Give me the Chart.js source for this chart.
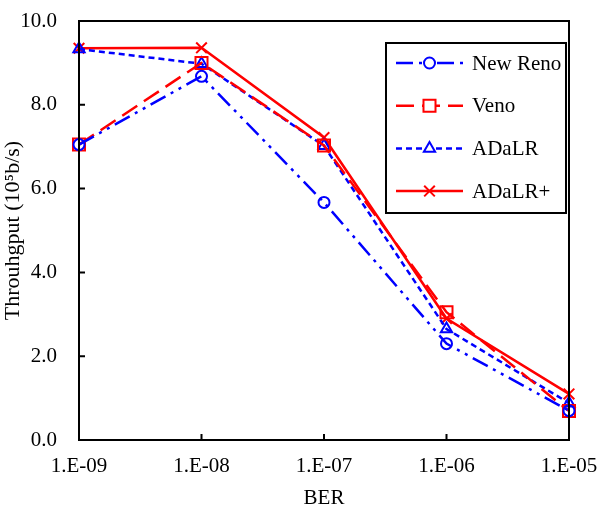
<!DOCTYPE html>
<html>
<head>
<meta charset="utf-8">
<script src="https://cdn.jsdelivr.net/npm/chart.js@4/dist/chart.umd.min.js"></script>
<style>
  html, body { margin: 0; padding: 0; background: #fff; }
  #wrap { width: 599px; height: 509px; }
</style>
</head>
<body>
<div id="wrap"><canvas id="chart" width="599" height="509"></canvas></div>
<script>
// BER values on the x axis
var berLabels = ["1.E-09", "1.E-08", "1.E-07", "1.E-06", "1.E-05"];

// throughput in 10^5 b/s
var newReno = [7.05, 8.68, 5.67, 2.30, 0.70];
var veno    = [7.05, 9.00, 7.03, 3.05, 0.69];
var adalr   = [9.33, 8.98, 7.02, 2.65, 0.88];
var adalrPlus = [9.35, 9.36, 7.22, 2.90, 1.10];

var yTicks = [0, 2, 4, 6, 8, 10];

var FONT = "'Liberation Serif', 'Times New Roman', serif";

// frame around the plot area + inward tick marks
var frame = {
  id: 'frame',
  afterDraw: function (chart) {
    var ctx = chart.ctx, a = chart.chartArea;
    var xs = chart.scales.x, ys = chart.scales.y;
    ctx.save();
    ctx.strokeStyle = '#000';
    ctx.lineWidth = 2;
    ctx.strokeRect(a.left, a.top, a.right - a.left, a.bottom - a.top);
    ctx.beginPath();
    for (var i = 0; i < yTicks.length; i++) {
      var py = ys.getPixelForValue(yTicks[i]);
      ctx.moveTo(a.left, py);
      ctx.lineTo(a.left + 6, py);
    }
    for (var j = 0; j < berLabels.length; j++) {
      var px = xs.getPixelForValue(j);
      ctx.moveTo(px, a.bottom);
      ctx.lineTo(px, a.bottom - 6);
    }
    ctx.stroke();
    ctx.restore();
  }
};

// boxed legend with line samples and markers
var legendBox = {
  id: 'legendBox',
  afterDraw: function (chart) {
    var ctx = chart.ctx;
    ctx.save();
    ctx.fillStyle = '#fff';
    ctx.fillRect(386, 43, 180, 170);
    ctx.strokeStyle = '#000';
    ctx.lineWidth = 2;
    ctx.strokeRect(386, 43, 180, 170);
    chart.data.datasets.forEach(function (ds, i) {
      var y = 63 + i * 42.7;
      ctx.strokeStyle = ds.borderColor;
      ctx.lineWidth = ds.borderWidth;
      ctx.setLineDash(ds.borderDash || []);
      ctx.beginPath();
      ctx.moveTo(396, y);
      ctx.lineTo(463, y);
      ctx.stroke();
      ctx.setLineDash([]);
      ctx.fillStyle = '#fff';
      ctx.strokeStyle = ds.borderColor;
      ctx.lineWidth = 2;
      Chart.helpers.drawPoint(ctx, {
        pointStyle: ds.pointStyle,
        radius: ds.pointRadius,
        borderWidth: 2,
        rotation: 0
      }, 429.5, y);
      ctx.fillStyle = '#000';
      ctx.font = '21px ' + FONT;
      ctx.textBaseline = 'middle';
      ctx.textAlign = 'left';
      ctx.fillText(ds.label, 472, y + 1);
    });
    ctx.restore();
  }
};

function series(label, data, color, dash, style, radius) {
  return {
    label: label,
    data: data,
    borderColor: color,
    backgroundColor: color,
    borderWidth: 2.5,
    borderDash: dash,
    pointStyle: style,
    pointRadius: radius,
    pointBorderWidth: 2,
    pointBorderColor: color,
    pointBackgroundColor: 'rgba(255,255,255,0)',
    tension: 0,
    fill: false
  };
}

Chart.defaults.font.family = FONT;
Chart.defaults.color = '#000';

new Chart(document.getElementById('chart'), {
  type: 'line',
  data: {
    labels: berLabels,
    datasets: [
      series('New Reno', newReno, '#0000ff', [17, 6, 3, 6, 3, 6], 'circle', 5.5),
      series('Veno', veno, '#ff0000', [18, 8], 'rect', 8.5),
      series('ADaLR', adalr, '#0000ff', [6, 4], 'triangle', 6.5),
      series('ADaLR+', adalrPlus, '#ff0000', [], 'crossRot', 7.5)
    ]
  },
  options: {
    responsive: false,
    animation: false,
    layout: { padding: { left: 0, top: 21, right: 30, bottom: 0 } },
    plugins: {
      legend: { display: false },
      tooltip: { enabled: false }
    },
    scales: {
      x: {
        type: 'category',
        offset: false,
        grid: { display: false, drawTicks: false },
        border: { display: true, color: '#000', width: 2 },
        ticks: { font: { size: 21 }, padding: 14, maxRotation: 0 },
        title: { display: true, text: 'BER', font: { size: 21 }, padding: { top: 0, bottom: -2 } },
        afterFit: function (s) {
          s.height = 69;
          s.paddingLeft = 0;
          s.paddingRight = 0;
        }
      },
      y: {
        min: 0,
        max: 10,
        grid: { display: false, drawTicks: false },
        border: { display: true, color: '#000', width: 2 },
        ticks: {
          stepSize: 2,
          font: { size: 21 },
          padding: 22,
          callback: function (v) { return v.toFixed(1); }
        },
        title: { display: true, text: 'Throuhgput (10\u2075b/s)', font: { size: 22 }, padding: { top: 0, bottom: 0 } },
        afterFit: function (s) {
          s.width = 79;
          s.paddingTop = 0;
          s.paddingBottom = 0;
        }
      }
    }
  },
  plugins: [frame, legendBox]
});
</script>
</body>
</html>
